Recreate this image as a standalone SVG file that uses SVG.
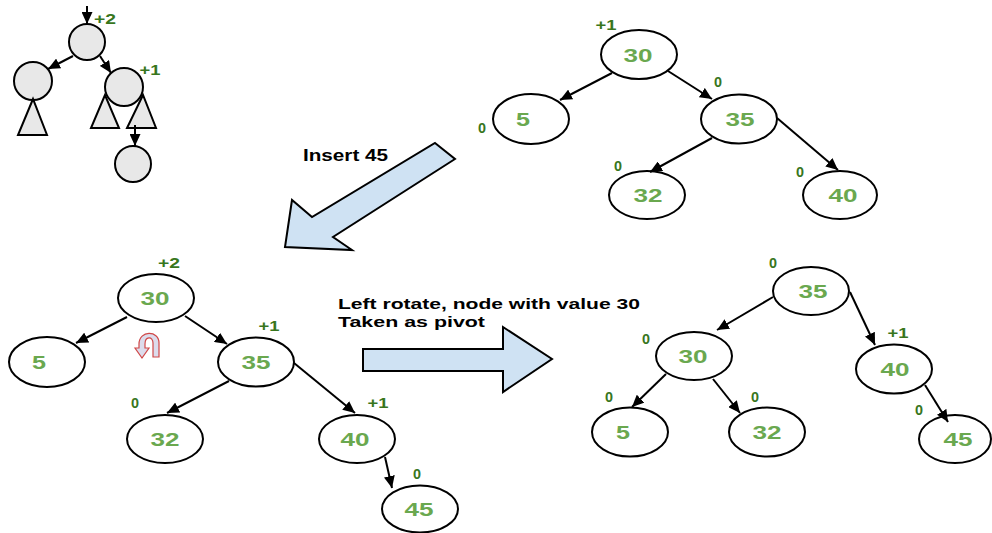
<svg xmlns="http://www.w3.org/2000/svg" width="992" height="533" viewBox="0 0 992 533">
<defs>
<marker id="ah" markerUnits="userSpaceOnUse" markerWidth="13" markerHeight="11" refX="12" refY="5.5" orient="auto">
<path d="M0,0 L12,5.5 L0,11 z" fill="#000"/>
</marker>
<style>
.n{fill:#fff;stroke:#000;stroke-width:2}
.m{fill:#e8e8e8;stroke:#000;stroke-width:2}
.v{font-family:"Liberation Sans",Arial,sans-serif;font-weight:bold;font-size:19px;fill:#6aa84f;text-anchor:middle}
.b{font-family:"Liberation Sans",Arial,sans-serif;font-weight:bold;font-size:15px;fill:#38761d;text-anchor:middle}
.t{font-family:"Liberation Sans",Arial,sans-serif;font-weight:bold;font-size:17px;fill:#000}
.t2{font-family:"Liberation Sans",Arial,sans-serif;font-weight:bold;font-size:15px;fill:#000}
.c line{stroke:#000;stroke-width:2;marker-end:url(#ah)}
.blk{fill:#cfe2f3;stroke:#000;stroke-width:2;stroke-linejoin:miter}
</style>
</defs>
<rect width="992" height="533" fill="#fff"/>

<!-- mini tree -->
<g id="mini">
<circle class="m" cx="87" cy="42" r="18"/>
<circle class="m" cx="33" cy="81" r="19"/>
<circle class="m" cx="124" cy="87" r="19"/>
<polygon class="m" points="33,99 18,135 47,135"/>
<polygon class="m" points="105,95 91,128 119,128"/>
<polygon class="m" points="143,95 127,128 156,128"/>
<circle class="m" cx="133" cy="164" r="18"/>
<text class="b" x="105" y="24" textLength="22" lengthAdjust="spacingAndGlyphs">+2</text>
<text class="b" x="150" y="75" textLength="21" lengthAdjust="spacingAndGlyphs">+1</text>
</g>
<g id="mini-connectors" class="c">
<line x1="87" y1="6" x2="87" y2="24"/>
<line x1="73" y1="56" x2="48" y2="69"/>
<line x1="100" y1="56" x2="111" y2="73"/>
<line x1="135" y1="125" x2="135" y2="146"/>
</g>

<!-- top right tree -->
<g id="tr30"><ellipse class="n" cx="639" cy="54.5" rx="38" ry="24.5"/><text class="v" x="638" y="62" textLength="29" lengthAdjust="spacingAndGlyphs">30</text><text class="b" x="606" y="30" textLength="21" lengthAdjust="spacingAndGlyphs">+1</text></g>
<g id="tr5"><ellipse class="n" cx="531" cy="119" rx="38" ry="25"/><text class="v" x="523" y="126" textLength="14" lengthAdjust="spacingAndGlyphs">5</text><text class="b" x="482" y="133" textLength="8" lengthAdjust="spacingAndGlyphs">0</text></g>
<g id="tr35"><ellipse class="n" cx="739" cy="119" rx="38" ry="24.5"/><text class="v" x="740" y="126" textLength="29" lengthAdjust="spacingAndGlyphs">35</text><text class="b" x="718" y="87" textLength="8" lengthAdjust="spacingAndGlyphs">0</text></g>
<g id="tr32"><ellipse class="n" cx="647" cy="195" rx="38" ry="24"/><text class="v" x="648" y="202" textLength="29" lengthAdjust="spacingAndGlyphs">32</text><text class="b" x="618" y="171" textLength="8" lengthAdjust="spacingAndGlyphs">0</text></g>
<g id="tr40"><ellipse class="n" cx="840" cy="195" rx="37" ry="24"/><text class="v" x="843" y="202" textLength="29" lengthAdjust="spacingAndGlyphs">40</text><text class="b" x="800" y="177" textLength="8" lengthAdjust="spacingAndGlyphs">0</text></g>
<g id="tr-connectors" class="c">
<line x1="612" y1="73" x2="560" y2="100"/>
<line x1="668" y1="71" x2="712" y2="99"/>
<line x1="712" y1="138" x2="650" y2="172"/>
<line x1="777" y1="118" x2="838" y2="170"/>
</g>

<!-- insert arrow -->
<g id="insert-arrow">
<polygon class="blk" points="435,143 455,159 333,237 352,250 285,247 292,200 312,217"/>
<text class="t" x="303" y="161" textLength="85" lengthAdjust="spacingAndGlyphs">Insert 45</text>
</g>

<!-- bottom left tree -->
<g id="bl30"><ellipse class="n" cx="156" cy="298" rx="38" ry="24"/><text class="v" x="155" y="305" textLength="29" lengthAdjust="spacingAndGlyphs">30</text><text class="b" x="169" y="268" textLength="22" lengthAdjust="spacingAndGlyphs">+2</text></g>
<g id="bl5"><ellipse class="n" cx="47" cy="362" rx="38" ry="25"/><text class="v" x="39" y="369" textLength="14" lengthAdjust="spacingAndGlyphs">5</text></g>
<g id="bl35"><ellipse class="n" cx="256" cy="362" rx="38" ry="24.5"/><text class="v" x="256" y="369" textLength="29" lengthAdjust="spacingAndGlyphs">35</text><text class="b" x="269" y="331" textLength="21" lengthAdjust="spacingAndGlyphs">+1</text></g>
<g id="bl32"><ellipse class="n" cx="165" cy="439" rx="38" ry="24"/><text class="v" x="165" y="446" textLength="29" lengthAdjust="spacingAndGlyphs">32</text><text class="b" x="135" y="408" textLength="8" lengthAdjust="spacingAndGlyphs">0</text></g>
<g id="bl40"><ellipse class="n" cx="357" cy="439" rx="38" ry="24"/><text class="v" x="355" y="446" textLength="29" lengthAdjust="spacingAndGlyphs">40</text><text class="b" x="378" y="408" textLength="21" lengthAdjust="spacingAndGlyphs">+1</text></g>
<g id="bl45"><ellipse class="n" cx="420" cy="509" rx="38" ry="23.5"/><text class="v" x="419" y="516" textLength="29" lengthAdjust="spacingAndGlyphs">45</text><text class="b" x="417" y="479" textLength="8" lengthAdjust="spacingAndGlyphs">0</text></g>
<g id="rotate-icon">
<path d="M159 357 L159 343 C159 330 139 330 139 344 L139 348 L135 348 L142 358 L149 348 L145 348 L145 344 C145 336 153 336 153 343 L153 357 Z" fill="#dcdcec" stroke="#d04848" stroke-width="1.2"/>
</g>
<g id="bl-connectors" class="c">
<line x1="127" y1="317" x2="76" y2="343"/>
<line x1="185" y1="316" x2="227" y2="344"/>
<line x1="229" y1="381" x2="167" y2="413"/>
<line x1="294" y1="363" x2="355" y2="413"/>
<line x1="385" y1="457" x2="392" y2="488"/>
</g>

<!-- rotate arrow -->
<g id="rotate-arrow">
<text class="t2" x="338" y="309" textLength="302" lengthAdjust="spacingAndGlyphs">Left rotate, node with value 30</text>
<text class="t2" x="338" y="327" textLength="147" lengthAdjust="spacingAndGlyphs">Taken as pivot</text>
<polygon class="blk" points="363,349 503,349 503,327 552,359 503,392 503,371 363,371"/>
</g>

<!-- bottom right tree -->
<g id="br35"><ellipse class="n" cx="811" cy="291" rx="38" ry="24"/><text class="v" x="813" y="298" textLength="29" lengthAdjust="spacingAndGlyphs">35</text><text class="b" x="773" y="268" textLength="8" lengthAdjust="spacingAndGlyphs">0</text></g>
<g id="br30"><ellipse class="n" cx="694" cy="356" rx="38" ry="24"/><text class="v" x="693" y="363" textLength="29" lengthAdjust="spacingAndGlyphs">30</text><text class="b" x="646" y="344" textLength="8" lengthAdjust="spacingAndGlyphs">0</text></g>
<g id="br40"><ellipse class="n" cx="894" cy="369" rx="38" ry="24.5"/><text class="v" x="895" y="376" textLength="29" lengthAdjust="spacingAndGlyphs">40</text><text class="b" x="898" y="338" textLength="21" lengthAdjust="spacingAndGlyphs">+1</text></g>
<g id="br5"><ellipse class="n" cx="630" cy="432" rx="38" ry="24.5"/><text class="v" x="623" y="439" textLength="14" lengthAdjust="spacingAndGlyphs">5</text><text class="b" x="609" y="402" textLength="8" lengthAdjust="spacingAndGlyphs">0</text></g>
<g id="br32"><ellipse class="n" cx="767" cy="432" rx="38" ry="24.5"/><text class="v" x="767" y="439" textLength="29" lengthAdjust="spacingAndGlyphs">32</text><text class="b" x="755" y="402" textLength="8" lengthAdjust="spacingAndGlyphs">0</text></g>
<g id="br45"><ellipse class="n" cx="955" cy="439" rx="36" ry="24"/><text class="v" x="958" y="446" textLength="29" lengthAdjust="spacingAndGlyphs">45</text><text class="b" x="919" y="415" textLength="8" lengthAdjust="spacingAndGlyphs">0</text></g>
<g id="br-connectors" class="c">
<line x1="773" y1="297" x2="717" y2="330"/>
<line x1="850" y1="292" x2="875" y2="345"/>
<line x1="666" y1="374" x2="632" y2="407"/>
<line x1="713" y1="379" x2="740" y2="413"/>
<line x1="925" y1="385" x2="948" y2="422"/>
</g>
</svg>
